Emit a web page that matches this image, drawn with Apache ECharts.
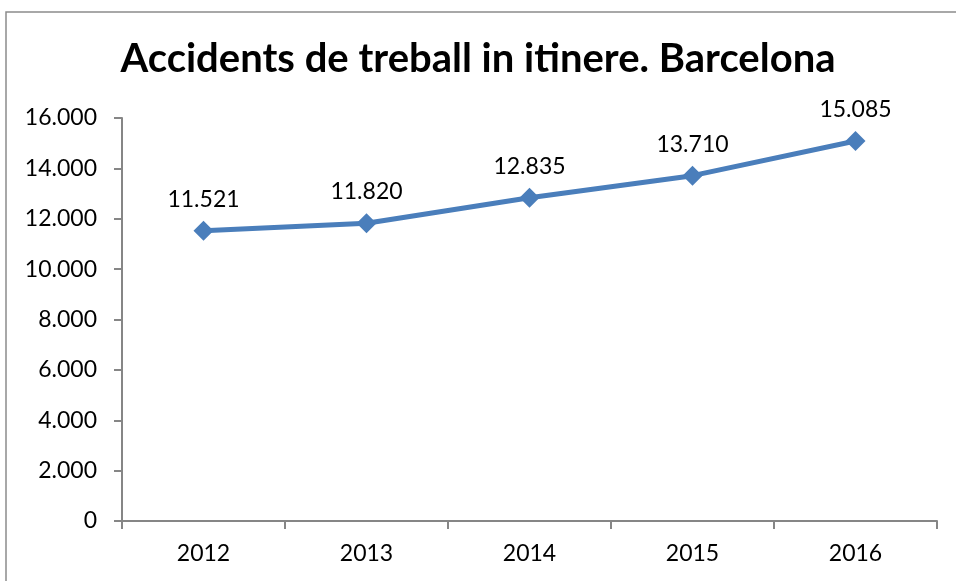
<!DOCTYPE html>
<html>
<head>
<meta charset="utf-8">
<script src="https://cdn.jsdelivr.net/npm/echarts@6/dist/echarts.min.js"></script>
<style>
  html, body { margin: 0; padding: 0; background: #fff; }
  #chart { width: 956px; height: 581px; }
</style>
</head>
<body>
<div id="chart"></div>
<script>
const years = ['2012', '2013', '2014', '2015', '2016'];
const accidents = [11521, 11820, 12835, 13710, 15085];
const yTicks = { min: 0, max: 16000, interval: 2000 };

// 12345 -> "12.345"
function fmt(v) {
  return String(v).replace(/\B(?=(\d{3})+(?!\d))/g, '.');
}

const font = 'Lato, "Open Sans", sans-serif';
const axisColor = '#868686';

const myechart = echarts.init(document.getElementById('chart'));
const option = {
  animation: false,
  graphic: [
    {
      type: 'rect',
      shape: { x: 6, y: 12, width: 1000, height: 700 },
      style: { fill: 'none', stroke: '#8c8c8c', lineWidth: 1.5 },
      silent: true,
    },
  ],
  title: {
    text: 'Accidents de treball in itinere. Barcelona',
    left: 'center',
    top: 34,
    textStyle: {
      fontFamily: font,
      fontWeight: 'bold',
      fontSize: 40,
      color: '#000',
    },
  },
  grid: {
    left: 122,
    right: 19,
    top: 118,
    bottom: 60,
  },
  xAxis: {
    type: 'category',
    data: years,
    axisLine: { lineStyle: { color: axisColor, width: 2 } },
    axisTick: { show: true, length: 8, lineStyle: { color: axisColor, width: 2 } },
    axisLabel: {
      color: '#000',
      fontFamily: font,
      fontSize: 23,
      margin: 21,
    },
  },
  yAxis: {
    type: 'value',
    min: yTicks.min,
    max: yTicks.max,
    interval: yTicks.interval,
    axisLine: { show: true, lineStyle: { color: axisColor, width: 2 } },
    axisTick: { show: true, length: 8, lineStyle: { color: axisColor, width: 2 } },
    splitLine: { show: false },
    axisLabel: {
      color: '#000',
      fontFamily: font,
      fontSize: 23,
      margin: 25,
      formatter: fmt,
    },
  },
  series: [
    {
      type: 'line',
      data: accidents,
      color: '#4A7EBB',
      lineStyle: { width: 5, color: '#4A7EBB' },
      symbol: 'diamond',
      symbolSize: 20,
      itemStyle: { color: '#4A7EBB' },
      label: {
        show: true,
        position: 'top',
        distance: 10,
        color: '#000',
        fontFamily: font,
        fontSize: 23,
        formatter: (p) => fmt(p.value),
      },
    },
  ],
};
myechart.setOption(option);
</script>
</body>
</html>
